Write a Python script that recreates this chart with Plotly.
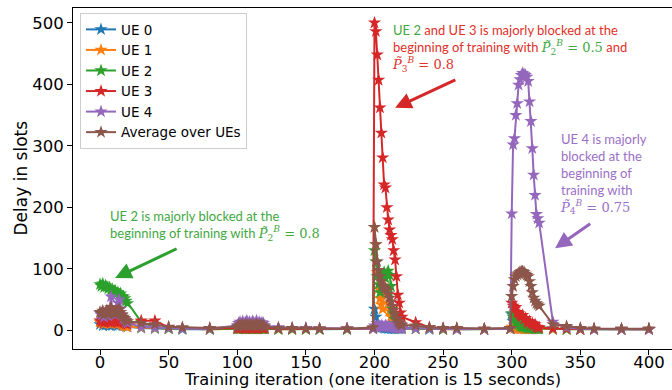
import plotly.graph_objects as go

# ---------------- data ----------------
iterations = (
    [0, 1, 2, 3, 4, 5, 6, 7, 8, 9, 10, 11, 12, 13, 14, 15, 16, 17, 18, 19, 20]
    + [30, 40, 50, 60, 80]
    + [100, 101, 102, 103, 104, 105, 106, 107, 108, 109, 110, 111, 112, 113, 114, 115, 116, 117, 118, 119, 120]
    + [130, 140, 150, 160, 180]
    + [199, 200, 201, 202, 203, 204, 205, 206, 207, 208, 209, 210, 211, 212, 213, 214, 215, 216, 217, 218, 219, 220]
    + [230, 240, 250, 260, 280]
    + [299, 300, 301, 302, 303, 304, 305, 306, 307, 308, 309, 310, 311, 312, 313, 314, 315, 316, 317, 318, 319, 320]
    + [330, 340, 350, 360, 380, 400]
)

ue0 = (
    [10, 12, 8, 11, 9, 12, 10, 8, 11, 9, 10, 12, 9, 8, 10, 11, 9, 8, 10, 7, 6]
    + [4, 3, 3, 2, 2]
    + [3, 4, 3, 4, 3, 4, 3, 3, 4, 3, 4, 3, 4, 3, 3, 4, 3, 4, 3, 3, 3]
    + [3, 2, 3, 2, 2]
    + [3, 35, 22, 12, 8, 6, 5, 5, 4, 4, 4, 3, 4, 3, 3, 3, 3, 3, 3, 3, 3, 3]
    + [3, 2, 2, 2, 2]
    + [3, 26, 15, 9, 6, 5, 4, 4, 3, 4, 3, 3, 3, 3, 3, 3, 3, 3, 3, 3, 3, 3]
    + [2, 2, 2, 2, 2, 2]
)
ue1 = (
    [14, 12, 15, 11, 13, 16, 12, 14, 11, 13, 15, 12, 14, 11, 13, 12, 10, 9, 8, 7, 6]
    + [5, 4, 3, 3, 2]
    + [3, 3, 4, 3, 3, 4, 3, 3, 3, 4, 3, 3, 3, 4, 3, 3, 3, 4, 3, 3, 3]
    + [2, 2, 2, 2, 2]
    + [3, 168, 140, 95, 68, 52, 42, 35, 62, 70, 58, 45, 32, 22, 25, 15, 10, 8, 6, 5, 4, 4]
    + [3, 3, 2, 2, 2]
    + [3, 6, 5, 4, 4, 3, 3, 3, 3, 3, 3, 3, 3, 3, 3, 3, 3, 3, 3, 3, 3, 3]
    + [2, 2, 2, 2, 2, 2]
)
ue2 = (
    [75, 72, 76, 70, 73, 71, 68, 70, 66, 67, 63, 65, 60, 62, 58, 60, 56, 55, 52, 48, 44]
    + [14, 5, 3, 3, 2]
    + [3, 3, 3, 4, 3, 3, 3, 3, 4, 3, 3, 3, 3, 3, 4, 3, 3, 3, 3, 3, 3]
    + [2, 2, 2, 2, 2]
    + [3, 130, 112, 88, 75, 62, 80, 90, 95, 85, 92, 97, 90, 72, 35, 28, 18, 12, 8, 6, 5, 5]
    + [3, 3, 2, 2, 2]
    + [3, 28, 22, 18, 15, 12, 10, 8, 7, 6, 6, 5, 5, 4, 4, 4, 4, 3, 3, 3, 3, 3]
    + [3, 2, 2, 2, 2, 2]
)
ue3 = (
    [16, 14, 17, 13, 15, 18, 14, 16, 13, 15, 17, 14, 16, 13, 15, 14, 16, 13, 12, 11, 10]
    + [16, 16, 5, 4, 3]
    + [4, 4, 5, 4, 4, 5, 4, 4, 4, 5, 4, 4, 4, 5, 4, 4, 4, 5, 4, 4, 4]
    + [3, 3, 3, 3, 3]
    + [3, 500, 486, 448, 407, 362, 321, 281, 237, 232, 200, 180, 164, 155, 148, 130, 115, 88, 58, 45, 29, 22]
    + [13, 5, 3, 3, 2]
    + [3, 45, 40, 35, 38, 30, 28, 25, 22, 25, 18, 20, 15, 12, 15, 10, 12, 8, 10, 6, 5, 5]
    + [3, 3, 2, 2, 2, 2]
)
ue4 = (
    [28, 25, 30, 22, 26, 30, 24, 35, 55, 30, 28, 25, 32, 45, 50, 35, 25, 20, 18, 15, 12]
    + [6, 5, 4, 3, 3]
    + [8, 12, 14, 11, 15, 12, 13, 16, 12, 14, 11, 15, 13, 12, 16, 12, 14, 11, 13, 12, 8]
    + [5, 4, 4, 3, 3]
    + [3, 8, 6, 7, 9, 6, 8, 7, 6, 8, 7, 6, 7, 5, 6, 5, 5, 4, 4, 4, 4, 4]
    + [3, 3, 3, 2, 2]
    + [3, 190, 302, 312, 350, 369, 399, 408, 415, 418, 416, 415, 412, 405, 372, 340, 296, 253, 220, 189, 182, 175]
    + [14, 5, 3, 2, 2, 2]
)
avg = (
    [30, 28, 32, 26, 29, 33, 27, 31, 38, 30, 28, 27, 30, 33, 35, 30, 26, 22, 20, 17, 15]
    + [12, 10, 6, 5, 4]
    + [6, 8, 9, 8, 9, 8, 9, 10, 8, 9, 8, 9, 8, 9, 10, 8, 9, 8, 9, 8, 6]
    + [4, 4, 3, 3, 3]
    + [5, 168, 140, 112, 98, 88, 80, 73, 70, 68, 65, 60, 53, 47, 40, 33, 27, 20, 15, 12, 10, 9]
    + [8, 5, 4, 4, 3]
    + [4, 56, 72, 83, 88, 91, 93, 95, 96, 96, 95, 92, 90, 88, 80, 72, 62, 53, 48, 44, 42, 40]
    + [10, 7, 4, 3, 3, 3]
)

series_names = ["UE 0", "UE 1", "UE 2", "UE 3", "UE 4", "Average over UEs"]
series_values = [ue0, ue1, ue2, ue3, ue4, avg]
series_colors = ["#1f77b4", "#ff7f0e", "#2ca02c", "#d62728", "#9467bd", "#8c564b"]

x_ticks = [0, 50, 100, 150, 200, 250, 300, 350, 400]
y_ticks = [0, 100, 200, 300, 400, 500]

x_title = "Training iteration (one iteration is 15 seconds)"
y_title = "Delay in slots"

GREEN_T = "#3fa83f"
RED_T = "#e0302a"
PURPLE_T = "#9b6fc6"

fig = go.Figure()
for name, vals, col in zip(series_names, series_values, series_colors):
    fig.add_trace(go.Scatter(
        x=iterations, y=vals, name=name, mode="lines+markers",
        line=dict(color=col, width=2),
        marker=dict(symbol="star", size=10, color=col, line=dict(width=0)),
    ))

base_font = "DejaVu Sans"
ann_font = "Lato"


def pmath(sub, val, color):
    return (f'<span style="color:{color};font-family:DejaVu Serif"><i>P̃</i>'
            f'<sub>{sub}</sub><sup><i>B</i></sup> = {val}</span>')


annotations = []
annotations.append(dict(
    x=5.9, y=202, xref="x", yref="y", xanchor="left", yanchor="top", align="left",
    showarrow=False, font=dict(family=ann_font, size=13, color=GREEN_T),
    text="UE 2 is majorly blocked at the<br>beginning of training with " + pmath(2, "0.8", GREEN_T),
))
annotations.append(dict(
    x=211.5, y=505, xref="x", yref="y", xanchor="left", yanchor="top", align="left",
    showarrow=False, font=dict(family=ann_font, size=13, color=RED_T),
    text=(f'<span style="color:{GREEN_T}">UE 2</span> and UE 3 is majorly blocked at the<br>'
          "beginning of training with " + pmath(2, "0.5", GREEN_T) + " and<br>"
          + pmath(3, "0.8", RED_T)),
))
annotations.append(dict(
    x=333.8, y=328, xref="x", yref="y", xanchor="left", yanchor="top", align="left",
    showarrow=False, font=dict(family=ann_font, size=13, color=PURPLE_T),
    text="UE 4 is majorly<br>blocked at the<br>beginning of<br>training with<br>" + pmath(4, "0.75", PURPLE_T),
))
for (hx, hy, tx, ty, col) in [
    (11, 85.4, 56.9, 134, "#2ca02c"),
    (215, 361.8, 260, 408.5, "#d62728"),
    (331.6, 133.7, 358.3, 175.3, "#9467bd"),
]:
    annotations.append(dict(
        x=hx, y=hy, ax=tx, ay=ty, xref="x", yref="y", axref="x", ayref="y",
        text="", showarrow=True, arrowhead=2, arrowsize=1.1, arrowwidth=3,
        arrowcolor=col, standoff=0, startstandoff=0,
    ))
# axis titles
annotations.append(dict(
    x=0.5, y=0, xref="paper", yref="paper", xanchor="center", yanchor="bottom",
    yshift=-41, showarrow=False, text=x_title, borderpad=0,
    font=dict(family=base_font, size=16.3, color="black"),
))
annotations.append(dict(
    x=0, y=0.5, xref="paper", yref="paper", xanchor="center", yanchor="middle",
    xshift=-53, showarrow=False, text=y_title, textangle=-90,
    font=dict(family=base_font, size=17, color="black"),
))

fig.update_layout(
    width=672, height=390,
    margin=dict(l=73, r=0, t=8, b=41),
    paper_bgcolor="white", plot_bgcolor="white",
    font=dict(family=base_font, size=17, color="black"),
    showlegend=True,
    legend=dict(
        x=0.0117, y=0.985, xanchor="left", yanchor="top",
        bgcolor="rgba(255,255,255,0.85)", bordercolor="#cccccc", borderwidth=1,
        font=dict(family=base_font, size=13.5, color="black"),
        tracegroupgap=0,
    ),
    annotations=annotations,
)
fig.update_xaxes(
    range=[-19.7, 416.8], tickmode="array", tickvals=x_ticks,
    ticks="outside", ticklen=5, tickwidth=1, tickcolor="black",
    showline=True, linecolor="black", linewidth=1, mirror=True,
    showgrid=False, zeroline=False, ticklabelstandoff=-7,
    tickfont=dict(family=base_font, size=16.5),
    automargin=False,
)
fig.update_yaxes(
    range=[-30, 524], tickmode="array", tickvals=y_ticks,
    ticks="outside", ticklen=5, tickwidth=1, tickcolor="black",
    showline=True, linecolor="black", linewidth=1, mirror=False,
    showgrid=False, zeroline=False,
    tickfont=dict(family=base_font, size=16.5),
    automargin=False,
)

fig.write_html("out.html", config={"displayModeBar": False},
               post_script="document.body.style.margin='0px';")
